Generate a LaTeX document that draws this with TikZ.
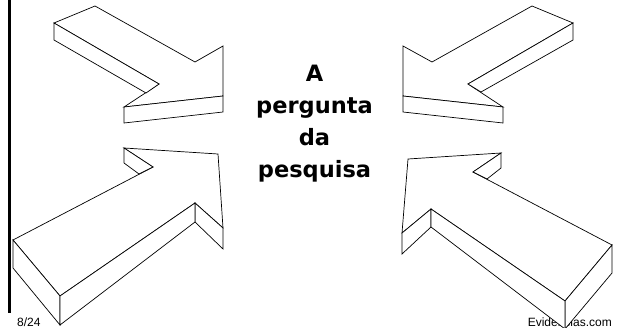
\documentclass[tikz,border=0pt]{standalone}
\usepackage{fontspec}
\setmainfont{Liberation Sans}
\newfontfamily\titlefont{DejaVu Sans}
\usetikzlibrary{positioning}

\begin{document}
\begin{tikzpicture}[x=1pt,y=-1pt,line join=miter,
				face/.style={draw=black, fill=white, line width=0.7pt},
				word/.style={anchor=base, inner sep=0pt, font=\titlefont\bfseries\fontsize{22.5}{27}\selectfont},
				small/.style={anchor=base, inner sep=0pt, font=\fontsize{12}{14}\selectfont}
			]
			\useasboundingbox (0,0) rectangle (617,328);
			
			% frame at the left
			\draw[line width=3pt] (9.5,0) -- (9.5,313);
			
			% question in the middle
			\node[word] (t_0) at (314.5,82) {A};
			\node[word] (t_1) at (314.5,114) {pergunta};
			\node[word] (t_2) at (314.5,146) {da};
			\node[word] (t_3) at (314.5,178) {pesquisa};
			
			\node[small, anchor=base west] (page) at (17,326) {8/24};
			\node[small, anchor=base east] (site) at (612,326) {Evidencias.com};
			
			% top left arrow
			\draw[face] (54,23) -- (95,6) -- (195,62) -- (223,46) -- (223,96) -- (124,107) -- (159,84) -- cycle;
			\draw[face] (54,23) -- (54,40) -- (146,93) -- (159,84) -- cycle;
			\draw[face] (124,107) -- (223,96) -- (223,112) -- (124,123) -- cycle;
			
			% top right arrow
			\draw[face] (532,6) -- (573,23) -- (468,84) -- (503,107) -- (403,96) -- (403,46) -- (432,62) -- cycle;
			\draw[face] (573,23) -- (573,40) -- (481,92) -- (468,84) -- cycle;
			\draw[face] (403,96) -- (503,107) -- (503,123) -- (403,112) -- cycle;
			
			% bottom left arrow
			\draw[face] (124,148) -- (218,154) -- (223,228) -- (195,203) -- (60,296) -- (13,240) -- (153,167) -- cycle;
			\draw[face] (124,148) -- (124,163) -- (139,174) -- (153,167) -- cycle;
			\draw[face] (223,228) -- (223,249) -- (195,222) -- (195,203) -- cycle;
			\draw[face] (13,240) -- (13,268) -- (60,325) -- (60,296) -- cycle;
			\draw[face] (60,296) -- (60,325) -- (195,222) -- (195,203) -- cycle;
			
			% bottom right arrow
			\draw[face] (501,153) -- (408,159) -- (402,233) -- (431,209) -- (565,301) -- (612,245) -- (473,172) -- cycle;
			\draw[face] (501,153) -- (501,168) -- (487,179) -- (473,172) -- cycle;
			\draw[face] (402,233) -- (402,254) -- (431,227) -- (431,209) -- cycle;
			\draw[face] (612,245) -- (612,273) -- (565,329) -- (565,301) -- cycle;
			\draw[face] (565,301) -- (565,329) -- (431,227) -- (431,209) -- cycle;
		\end{tikzpicture}
\end{document}
